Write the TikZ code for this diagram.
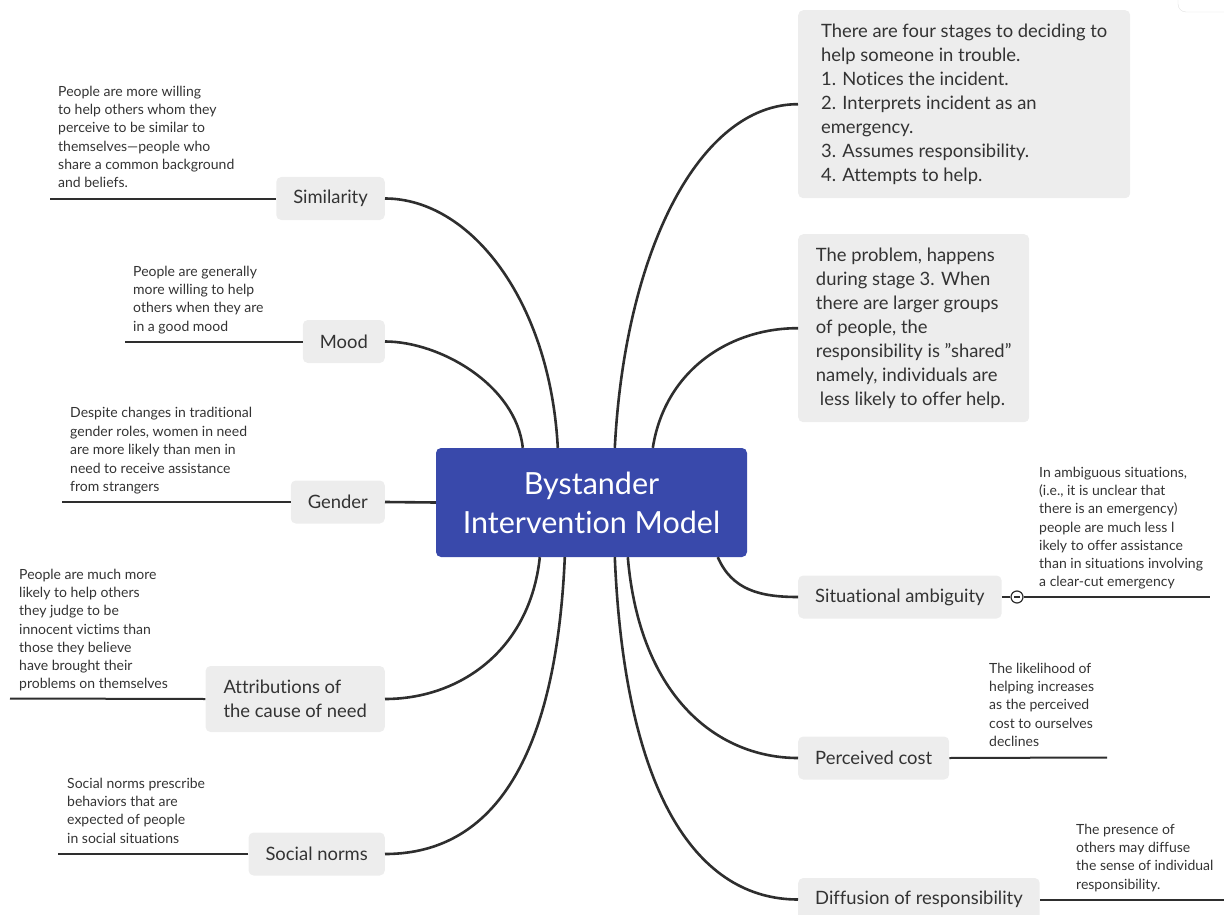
\documentclass[tikz,border=0pt]{standalone}
\usepackage{fontspec}
\setmainfont{Lato}[Ligatures={TeX,NoCommon}]
\usepackage{tikz}
\definecolor{hubblue}{HTML}{3949AB}
\definecolor{topicgray}{HTML}{EDEDED}
\definecolor{inkgray}{HTML}{333333}
\definecolor{linegray}{HTML}{2E2E2E}

\begin{document}
\begin{tikzpicture}[x=1pt, y=-1pt,
    hub/.style={rectangle, rounded corners=5pt, fill=hubblue, text=white, align=center, minimum width=311pt, minimum height=109pt, font=\fontsize{30.5}{39}\selectfont},
    topic/.style={rectangle, rounded corners=5pt, fill=topicgray, text=inkgray, align=left, inner xsep=17pt, minimum height=43pt, font=\fontsize{18.4}{24}\selectfont},
    note/.style={anchor=north west, inner sep=0pt, align=left, text=inkgray, font=\fontsize{14}{18.2}\selectfont},
    branch/.style={draw=linegray, line width=2.6pt},
    leaf/.style={draw=linegray, line width=2pt}
]
\useasboundingbox (0,0) rectangle (1224,915);
\draw[black!12, rounded corners=8pt] (1178,-10) rectangle (1240,12);

\node[hub] (hub) at (591.5,502.5) {Bystander\\Intervention Model};

% left side
\node[topic, anchor=east] (sim) at (385,198.5) {Similarity};
\node[topic, anchor=east] (mood) at (385,341.5) {Mood};
\node[topic, anchor=east] (gen) at (385,502) {Gender};
\node[topic, anchor=east, minimum height=66pt, inner xsep=18pt] (attr) at (385,699) {Attributions of\\the cause of need};
\node[topic, anchor=east] (soc) at (385,854) {Social norms};

% right side
\node[topic, anchor=north west, minimum width=332pt, minimum height=188pt, inner xsep=18pt] (stages) at (798,10)
    {There are four stages to deciding to\\help someone in trouble.\\1. Notices the incident.\\2. Interprets incident as an\\emergency.\\3. Assumes responsibility.\\4. Attempts to help.};
\node[topic, anchor=north west, minimum width=231pt, minimum height=188pt, inner xsep=14pt] (problem) at (798,234)
    {The problem, happens\\during stage 3. When\\there are larger groups\\of people, the\\responsibility is "shared"\\namely, individuals are\\\hspace{4pt}less likely to offer help.};
\node[topic, anchor=west] (sit) at (798,597) {Situational ambiguity};
\node[topic, anchor=west] (cost) at (798,758) {Perceived cost};
\node[topic, anchor=west] (diff) at (798,899.5) {Diffusion of responsibility};

% notes
\node[note] (simnote) at (58,86) {People are more willing\\to help others whom they\\perceive to be similar to\\themselves—people who\\share a common background\\and beliefs.};
\node[note] (moodnote) at (133,266) {People are generally\\more willing to help\\others when they are\\in a good mood};
\node[note, font=\fontsize{14}{18.5}\selectfont] (gennote) at (70,407) {Despite changes in traditional\\gender roles, women in need\\are more likely than men in\\need to receive assistance\\from strangers};
\node[note] (attrnote) at (19,569) {People are much more\\likely to help others\\they judge to be\\innocent victims than\\those they believe\\have brought their\\problems on themselves};
\node[note] (socnote) at (67,778) {Social norms prescribe\\behaviors that are\\expected of people\\in social situations};
\node[note] (sitnote) at (1039,467) {In ambiguous situations,\\(i.e., it is unclear that\\there is an emergency)\\people are much less l\\ikely to offer assistance\\than in situations involving\\a clear-cut emergency};
\node[note] (costnote) at (989,663) {The likelihood of\\helping increases\\as the perceived\\cost to ourselves\\declines};
\node[note] (diffnote) at (1076,824) {The presence of\\others may diffuse\\the sense of individual\\responsibility.};

% free ends of the note lines
\coordinate (simend) at (50,198.5);
\coordinate (moodend) at (125,341.5);
\coordinate (genend) at (62,502);
\coordinate (attrend) at (10,698.5);
\coordinate (socend) at (58,854);
\coordinate (sitend) at (1210,597);
\coordinate (costend) at (1107,757.5);
\coordinate (diffend) at (1230,899.5);

% branches
\draw[branch] ([xshift=122pt]hub.north west) .. controls (550,300) and (470,198.5) .. (sim.east);
\draw[branch] ([xshift=87pt]hub.north west) .. controls (516,385) and (440,341.5) .. (mood.east);
\draw[branch] (hub.west) -- (gen.east);
\draw[branch] ([xshift=104pt]hub.south west) .. controls (530,650) and (460,699) .. (attr.east);
\draw[branch] ([xshift=129pt]hub.south west) .. controls (555,780) and (480,854) .. (soc.east);
\draw[branch] ([xshift=179pt]hub.north west) .. controls (625,250) and (700,104) .. (stages.west);
\draw[branch] ([xshift=217pt]hub.north west) .. controls (665,370) and (730,328) .. (problem.west);
\draw[branch] ([xshift=282pt]hub.south west) .. controls (732,590) and (760,597) .. (sit.west);
\draw[branch] ([xshift=192pt]hub.south west) .. controls (640,700) and (720,758) .. (cost.west);
\draw[branch] ([xshift=179pt]hub.south west) .. controls (625,800) and (700,899.5) .. (diff.west);

% note lines
\draw[leaf] (sim.west) -- (simend);
\draw[leaf] (mood.west) -- (moodend);
\draw[leaf] (gen.west) -- (genend);
\draw[leaf] (attr.west) -- (attrend);
\draw[leaf] (soc.west) -- (socend);
\node[circle, draw=linegray, line width=1.2pt, fill=white, minimum size=12pt, inner sep=0pt] (sitknob) at (1017,597) {};
\draw[linegray, line width=1.2pt] ([xshift=-3pt]sitknob.center) -- ([xshift=3pt]sitknob.center);
\draw[leaf] (sit.east) -- (sitknob.west);
\draw[leaf] (sitknob.east) -- (sitend);
\draw[leaf] (cost.east) -- (costend);
\draw[leaf] (diff.east) -- (diffend);
\end{tikzpicture}
\end{document}
